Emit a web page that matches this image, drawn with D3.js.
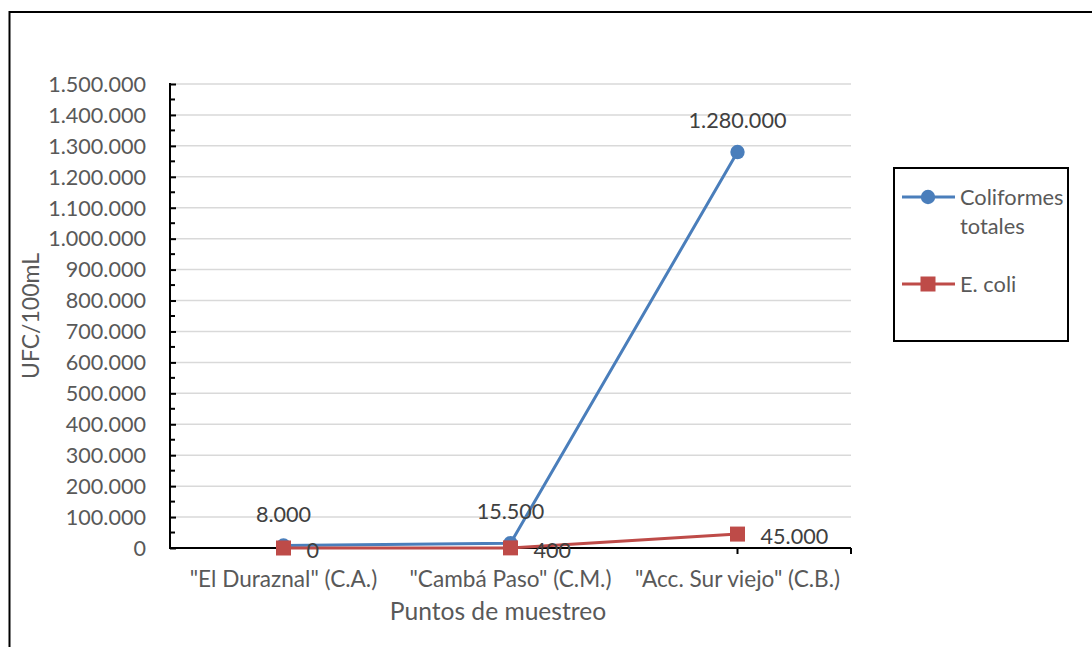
<!DOCTYPE html>
<html>
<head>
<meta charset="utf-8">
<script src="https://cdn.jsdelivr.net/npm/d3@7"></script>
<style>
  html, body { margin: 0; padding: 0; background: #fff; }
  svg { display: block; }
  text { font-family: Lato, "Open Sans", sans-serif; }
</style>
</head>
<body>
<svg id="chart" width="1092" height="647"></svg>
<script>
const categories = ['"El Duraznal" (C.A.)', '"Cambá Paso" (C.M.)', '"Acc. Sur viejo" (C.B.)'];
const seriesNames = ["Coliformes totales", "E. coli"];
const coliformes = [8000, 15500, 1280000];
const ecoli = [0, 400, 45000];
const yTicks = [0, 100000, 200000, 300000, 400000, 500000, 600000, 700000, 800000, 900000, 1000000, 1100000, 1200000, 1300000, 1400000, 1500000];
const colors = ["#4A7EBB", "#BE4B48"];

const fmt = v => v === 0 ? "0" : d3.format(",")(v).replace(/,/g, ".");

const svg = d3.select("#chart");
const m = { left: 170, right: 851, top: 84, bottom: 548 };

// outer chart border
svg.append("rect").attr("x", 9.5).attr("y", 12).attr("width", 1100).attr("height", 700)
  .attr("fill", "none").attr("stroke", "#000").attr("stroke-width", 2);

const x = d3.scaleBand().domain(categories).range([m.left, m.right]).padding(0);
const y = d3.scaleLinear().domain([0, 1500000]).range([m.bottom, m.top]);

// gridlines
svg.append("g").selectAll("line").data(yTicks.filter(d => d > 0)).join("line")
  .attr("x1", m.left).attr("x2", m.right)
  .attr("y1", d => y(d)).attr("y2", d => y(d))
  .attr("stroke", "#d9d9d9").attr("stroke-width", 1.5);

// y axis
const yAxis = d3.axisRight(y).tickValues(yTicks).tickSize(6).tickFormat("");
const gy = svg.append("g").attr("transform", `translate(${m.left},0)`).call(yAxis);
gy.select(".domain").remove();
gy.selectAll(".tick line").attr("stroke", "#000").attr("stroke-width", 2);
// minor ticks
svg.append("g").selectAll("line").data(yTicks.slice(0, -1).map(d => d + 50000)).join("line")
  .attr("x1", m.left).attr("x2", m.left + 5)
  .attr("y1", d => y(d)).attr("y2", d => y(d))
  .attr("stroke", "#000").attr("stroke-width", 2);
svg.append("line").attr("x1", m.left).attr("x2", m.left).attr("y1", m.top - 1).attr("y2", m.bottom + 1)
  .attr("stroke", "#000").attr("stroke-width", 2);

// y tick labels
svg.append("g").selectAll("text").data(yTicks).join("text")
  .attr("x", 146).attr("y", d => y(d)).attr("dy", "0.36em")
  .attr("text-anchor", "end").attr("font-size", 21.6).attr("fill", "#595959")
  .text(fmt);

// x axis
svg.append("line").attr("x1", m.left).attr("x2", m.right).attr("y1", m.bottom).attr("y2", m.bottom)
  .attr("stroke", "#000").attr("stroke-width", 2);
[x(categories[2]) + x.bandwidth() / 2, m.right].forEach(px => {
  svg.append("line").attr("x1", px).attr("x2", px).attr("y1", m.bottom).attr("y2", m.bottom + 6)
    .attr("stroke", "#000").attr("stroke-width", 2);
});
svg.append("g").selectAll("text").data(categories).join("text")
  .attr("x", d => x(d) + x.bandwidth() / 2).attr("y", 587)
  .attr("text-anchor", "middle").attr("font-size", 22.6).attr("fill", "#595959")
  .text(d => d);

// axis titles
svg.append("text").attr("x", 498).attr("y", 620).attr("text-anchor", "middle")
  .attr("font-size", 24.6).attr("fill", "#595959").text("Puntos de muestreo");
svg.append("text").attr("transform", "translate(39,316) rotate(-90)").attr("text-anchor", "middle")
  .attr("font-size", 23).attr("fill", "#595959").text("UFC/100mL");

const cx = d => x(d) + x.bandwidth() / 2;
const line = d3.line().x(d => cx(d.c)).y(d => y(d.v));
const s1 = categories.map((c, i) => ({ c, v: coliformes[i] }));
const s2 = categories.map((c, i) => ({ c, v: ecoli[i] }));

svg.append("path").datum(s1).attr("d", line).attr("fill", "none").attr("stroke", colors[0]).attr("stroke-width", 3);
svg.append("g").selectAll("circle").data(s1).join("circle")
  .attr("cx", d => cx(d.c)).attr("cy", d => y(d.v)).attr("r", 7.2).attr("fill", colors[0]);
svg.append("path").datum(s2).attr("d", line).attr("fill", "none").attr("stroke", colors[1]).attr("stroke-width", 3);
svg.append("g").selectAll("rect").data(s2).join("rect")
  .attr("x", d => cx(d.c) - 7.5).attr("y", d => y(d.v) - 7.5).attr("width", 15).attr("height", 15).attr("fill", colors[1]);

// data labels
svg.append("g").selectAll("text").data(s1).join("text")
  .attr("x", d => cx(d.c)).attr("y", d => y(d.v) - 24)
  .attr("text-anchor", "middle").attr("font-size", 21.6).attr("fill", "#404040")
  .text(d => fmt(d.v));
svg.append("g").selectAll("text").data(s2).join("text")
  .attr("x", d => cx(d.c) + 23).attr("y", d => y(d.v) + 2).attr("dy", "0.36em")
  .attr("text-anchor", "start").attr("font-size", 21.6).attr("fill", "#404040")
  .text(d => fmt(d.v));

// legend
const lg = svg.append("g");
lg.append("rect").attr("x", 894).attr("y", 168).attr("width", 174).attr("height", 173)
  .attr("fill", "#fff").attr("stroke", "#000").attr("stroke-width", 2);
const legendRows = [{ y: 197, i: 0 }, { y: 284, i: 1 }];
legendRows.forEach(r => {
  lg.append("line").attr("x1", 902).attr("x2", 955).attr("y1", r.y).attr("y2", r.y)
    .attr("stroke", colors[r.i]).attr("stroke-width", 3);
  if (r.i === 0) lg.append("circle").attr("cx", 928).attr("cy", r.y).attr("r", 7.2).attr("fill", colors[0]);
  else lg.append("rect").attr("x", 920.5).attr("y", r.y - 7.5).attr("width", 15).attr("height", 15).attr("fill", colors[1]);
});
const t1 = lg.append("text").attr("x", 960).attr("y", 197).attr("dy", "0.36em").attr("font-size", 21.8).attr("fill", "#595959");
t1.append("tspan").attr("x", 960).text("Coliformes");
t1.append("tspan").attr("x", 960).attr("dy", 29).text("totales");
lg.append("text").attr("x", 960).attr("y", 284).attr("dy", "0.36em").attr("font-size", 21.8).attr("fill", "#595959").text(seriesNames[1]);
</script>
</body>
</html>
